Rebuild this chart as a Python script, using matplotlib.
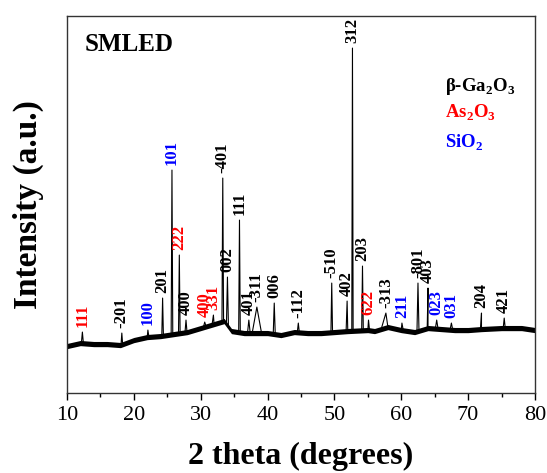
import numpy as np
import matplotlib
matplotlib.use("Agg")
import matplotlib.pyplot as plt

plt.rcParams['font.family'] = ['Liberation Serif', 'DejaVu Serif']
plt.rcParams['mathtext.fontset'] = 'custom'
plt.rcParams['mathtext.rm'] = 'Liberation Serif'
plt.rcParams['mathtext.bf'] = 'Liberation Serif:bold'

# --- data ---
base_theta = [10, 12, 14, 16, 18, 20, 22, 24, 26, 28, 30, 32, 33.5, 34.6, 36.5, 40, 42, 44, 46,
              48, 50, 52, 55, 56, 58, 60, 62, 64, 66, 68, 70, 72, 75, 78, 80]
base_int = [47, 50, 49, 49, 48, 53, 56, 57, 59, 61, 65, 69, 72, 62, 60, 60, 58, 61, 60,
            60, 61, 62, 63, 62, 66, 63, 61, 65, 64, 63, 63, 64, 65, 65, 63]
noise_half = 2.6

peak_theta = [12.3, 18.2, 22.1, 24.3, 25.7, 26.8, 27.8, 30.6, 31.9, 33.3, 34.0, 35.8,
              37.2, 38.4, 41.0, 44.6, 49.6, 51.9, 52.7, 54.2, 55.1, 57.7, 60.1, 62.5,
              64.0, 65.3, 67.5, 72.0, 75.4]
peak_int = [61, 60, 63, 95, 223, 138, 73, 71, 78, 215, 116, 173,
            73, 86, 90, 70, 110, 92, 345, 127, 73, 80, 70, 110,
            105, 73, 70, 80, 75]
peak_hw = [0.15, 0.12, 0.15, 0.12, 0.12, 0.12, 0.15, 0.2, 0.2, 0.12, 0.15, 0.12,
           0.2, 0.7, 0.15, 0.15, 0.12, 0.15, 0.1, 0.12, 0.15, 0.7, 0.2, 0.15,
           0.12, 0.2, 0.2, 0.15, 0.15]
peak_label = ['111', '-201', '100', '201', '101', '222', '400', '400', '331', '-401', '002', '111',
              '401', '-311', '006', '-112', '-510', '402', '312', '203', '622', '-313', '211', '-801',
              '403', '023', '031', '204', '421']
peak_phase = ['As', 'Ga', 'Si', 'Ga', 'Si', 'As', 'Ga', 'As', 'As', 'Ga', 'Ga', 'Ga',
              'Ga', 'Ga', 'Ga', 'Ga', 'Ga', 'Ga', 'Ga', 'Ga', 'As', 'Ga', 'Si', 'Ga',
              'Ga', 'Si', 'Si', 'Ga', 'Ga']
phase_color = {'Ga': 'black', 'As': '#ff0000', 'Si': '#0000ff'}

# --- build line ---
xs = list(base_theta)
ys = list(base_int)
for t, h, w in zip(peak_theta, peak_int, peak_hw):
    for xx in (t - w, t + w):
        xs.append(xx)
        ys.append(float(np.interp(xx, base_theta, base_int)))
    xs.append(t)
    ys.append(h)
order = np.argsort(xs)
xs = np.array(xs)[order]
ys = np.array(ys)[order]

fig = plt.figure(figsize=(5.47, 4.73), dpi=100)
ax = fig.add_axes([0.1225, 0.169, 0.8555, 0.797])

bt = np.array(base_theta, float)
bi = np.array(base_int, float)
ax.fill_between(bt, bi - noise_half, bi + noise_half, color='black', lw=0)
ax.plot(xs, ys, color='black', lw=0.8)

for t, h, lab, ph in zip(peak_theta, peak_int, peak_label, peak_phase):
    ax.annotate(lab, xy=(t, h), xytext=(0, 3.5), textcoords='offset points',
                rotation=90, ha='center', va='bottom', fontsize=12, fontweight='bold',
                color=phase_color[ph])

ax.text(0.038, 0.924, 'SMLED', transform=ax.transAxes, fontsize=18, fontweight='bold',
        va='center', ha='left')
ax.text(0.808, 0.814, r'β-Ga$_\mathbf{2}$O$_\mathbf{3}$', transform=ax.transAxes, fontsize=13.5,
        fontweight='bold', va='center', ha='left', color='black')
ax.text(0.808, 0.743, r'As$_\mathbf{2}$O$_\mathbf{3}$', transform=ax.transAxes, fontsize=13.5,
        fontweight='bold', va='center', ha='left', color='#ff0000')
ax.text(0.808, 0.663, r'SiO$_\mathbf{2}$', transform=ax.transAxes, fontsize=13.5,
        fontweight='bold', va='center', ha='left', color='#0000ff')

ax.set_xlim(10, 80)
ax.set_ylim(0, 377)
ax.set_xticks(np.arange(10, 81, 10))
ax.set_xticks(np.arange(15, 80, 10), minor=True)
ax.set_yticks([])
ax.tick_params(axis='x', which='major', direction='out', length=5, width=1, labelsize=16, pad=4)
ax.tick_params(axis='x', which='minor', direction='out', length=3, width=1)
for s in ax.spines.values():
    s.set_linewidth(1.0)
    s.set_color('#333333')

ax.set_xlabel('2 theta (degrees)', fontsize=23, fontweight='bold')
ax.xaxis.set_label_coords(0.5, -0.13)
ax.set_ylabel('Intensity (a.u.)', fontsize=24, fontweight='bold')
ax.yaxis.set_label_coords(-0.05, 0.5)

fig.savefig('out.png', dpi=100)
